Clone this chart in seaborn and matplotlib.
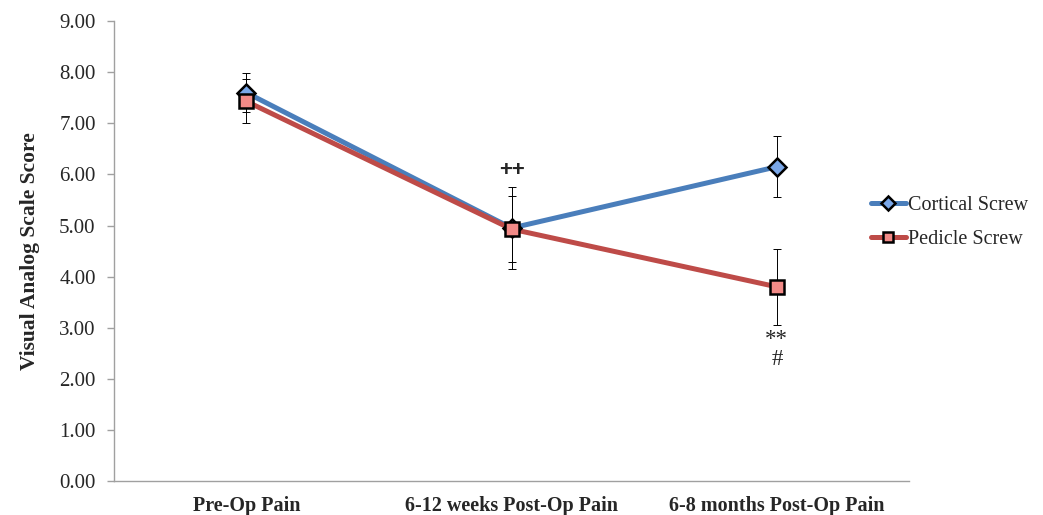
import numpy as np
import pandas as pd
import matplotlib
matplotlib.use("Agg")
import matplotlib.pyplot as plt
import seaborn as sns

# values
categories = ["Pre-Op Pain", "6-12 weeks Post-Op Pain", "6-8 months Post-Op Pain"]
cortical_mean = [7.60, 4.95, 6.15]
cortical_err = [0.38, 0.80, 0.60]
pedicle_mean = [7.43, 4.93, 3.80]
pedicle_err = [0.43, 0.64, 0.75]
yticks = [0, 1, 2, 3, 4, 5, 6, 7, 8, 9]

sns.set_theme(style="white")
plt.rcParams["font.family"] = ["Liberation Serif", "DejaVu Serif"]

df = pd.DataFrame({
    "x": list(range(len(categories))) * 2,
    "score": cortical_mean + pedicle_mean,
    "err": cortical_err + pedicle_err,
    "group": ["Cortical Screw"] * 3 + ["Pedicle Screw"] * 3,
})

styles = {
    "Cortical Screw": dict(color="#4A7EBB", marker="D", mfc="#7AA7E8", ms=9),
    "Pedicle Screw": dict(color="#BE4B48", marker="s", mfc="#F28A87", ms=9.5),
}

fig = plt.figure(figsize=(10.43, 5.15), dpi=100)
ax = fig.add_axes([0.109, 0.066, 0.763, 0.893])

for name, st in styles.items():
    sub = df[df["group"] == name]
    sns.lineplot(data=sub, x="x", y="score", ax=ax, color=st["color"], lw=3.6,
                 zorder=3, legend=False)
    ax.errorbar(sub["x"], sub["score"], yerr=sub["err"], fmt="none", ecolor="black",
                elinewidth=0.7, capsize=3, capthick=0.7, zorder=4)

# markers on top of error bars
for name, st in styles.items():
    sub = df[df["group"] == name]
    ax.plot(sub["x"], sub["score"], ls="none", marker=st["marker"], ms=st["ms"],
            mfc=st["mfc"], mec="black", mew=1.8, zorder=5)

ax.text(1, 6.08, "++", ha="center", va="center", fontsize=16, fontweight="bold",
        family=["Liberation Sans", "DejaVu Sans"])
ax.text(2, 2.98, "**\n#", ha="center", va="top", fontsize=16.5, linespacing=0.95)

ax.set_xlim(-0.5, 2.5)
ax.set_ylim(0, 9)
ax.set_yticks(yticks)
ax.set_yticklabels([f"{v:.2f}" for v in yticks], fontsize=15)
ax.set_xticks(range(len(categories)))
ax.set_xticklabels(categories, fontsize=14.5, fontweight="bold")
ax.set_xticks([-0.5, 0.5, 1.5, 2.5], minor=True)
ax.tick_params(axis="x", which="major", length=0, pad=11)
ax.tick_params(axis="x", which="minor", length=5, color="#A0A0A0", width=1)
ax.tick_params(axis="y", length=5, color="#A0A0A0", width=1, left=True, pad=8)
ax.set_xlabel("")
ax.set_ylabel("Visual Analog Scale Score", fontsize=15.5, fontweight="bold", labelpad=14)
ax.grid(False)
for side in ["top", "right"]:
    ax.spines[side].set_visible(False)
for side in ["left", "bottom"]:
    ax.spines[side].set_color("#A0A0A0")
    ax.spines[side].set_linewidth(1)

leg_handles = []
for name, st in styles.items():
    leg_handles.append(plt.Line2D([], [], color=st["color"], lw=3.6, marker=st["marker"],
                                  ms=st["ms"] * 0.8, mfc=st["mfc"], mec="black", mew=1.8))
fig.legend(leg_handles, list(styles.keys()), loc="center left",
           bbox_to_anchor=(0.818, 0.568), frameon=False, fontsize=14.5,
           handlelength=1.7, handletextpad=0.1, labelspacing=0.75)

fig.savefig("out.png", dpi=100)
